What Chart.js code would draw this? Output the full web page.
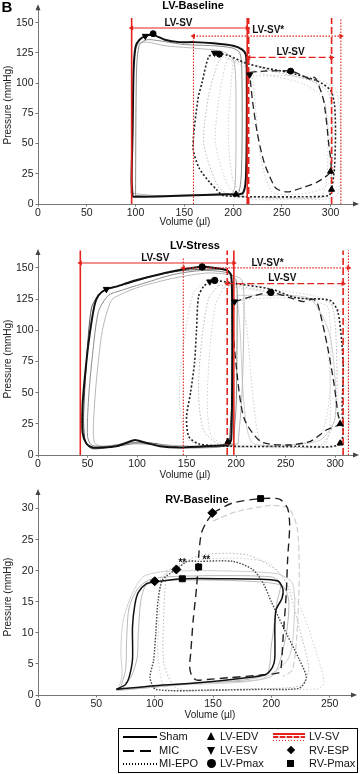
<!DOCTYPE html>
<html>
<head>
<meta charset="utf-8">
<script src="https://cdn.jsdelivr.net/npm/chart.js@4.4.1/dist/chart.umd.min.js"></script>
<style>
  body { margin: 0; background: #fff; }
  #wrap { position: relative; width: 360px; height: 774px; overflow: hidden; font-family: "Liberation Sans", Arial, sans-serif; }
  #wrap canvas { position: absolute; left: 0; top: 0; }
  #legend { position: absolute; left: 118px; top: 728px; width: 240px; height: 45px; border: 1px solid #000; box-sizing: border-box; font-size: 11px; color: #111; }
  #legend span { position: absolute; line-height: 13px; white-space: nowrap; }
  #legend .ln { position: absolute; height: 2px; }
  #legend .mk { position: absolute; }
</style>
</head>
<body>
<div id="wrap">
  <canvas id="lvBase" width="360" height="774"></canvas>
  <canvas id="lvStress" width="360" height="774"></canvas>
  <canvas id="rvBase" width="360" height="774"></canvas>
  <div id="legend">
    <div class="ln" style="left:4px;top:7px;width:34px;background:#000"></div>
    <span style="left:40px;top:1px">Sham</span>
    <div class="ln" style="left:4px;top:21px;width:34px;background:repeating-linear-gradient(90deg,#000 0 11px,transparent 11px 17px)"></div>
    <span style="left:40px;top:15px">MIC</span>
    <div class="ln" style="left:4px;top:34px;width:34px;background:repeating-linear-gradient(90deg,#000 0 1.5px,transparent 1.5px 3px)"></div>
    <span style="left:40px;top:28px">MI-EPO</span>

    <div class="mk" style="left:88px;top:3px;border-left:4.5px solid transparent;border-right:4.5px solid transparent;border-bottom:8px solid #000"></div>
    <span style="left:101px;top:1px">LV-EDV</span>
    <div class="mk" style="left:88px;top:18px;border-left:4.5px solid transparent;border-right:4.5px solid transparent;border-top:8px solid #000"></div>
    <span style="left:101px;top:15px">LV-ESV</span>
    <div class="mk" style="left:88px;top:30px;width:9px;height:9px;border-radius:50%;background:#000"></div>
    <span style="left:101px;top:28px">LV-Pmax</span>

    <div class="ln" style="left:154px;top:4px;width:32px;height:2px;background:#e3231c"></div>
    <div class="ln" style="left:154px;top:7px;width:32px;height:2px;background:repeating-linear-gradient(90deg,#e3231c 0 5px,#f6b0a8 5px 7px)"></div>
    <div class="ln" style="left:154px;top:11px;width:32px;height:1px;background:repeating-linear-gradient(90deg,#e3231c 0 1.5px,transparent 1.5px 3px)"></div>
    <span style="left:190px;top:1px">LV-SV</span>
    <div class="mk" style="left:169px;top:18px;width:6px;height:6px;background:#000;transform:rotate(45deg)"></div>
    <span style="left:190px;top:15px">RV-ESP</span>
    <div class="mk" style="left:168px;top:31px;width:7px;height:7px;background:#000"></div>
    <span style="left:190px;top:28px">RV-Pmax</span>
  </div>
</div>
<script>
const FONT = '"Liberation Sans", Arial, sans-serif';
const RED = '#e3231c';

// ---------- LV-Baseline ----------
const lvPressureTicks = [0, 25, 50, 75, 100, 125, 150];
const lvVolumeTicks = [0, 50, 100, 150, 200, 250, 300];

const shamBaseV = [97, 110, 150, 190, 203, 210, 213, 214, 214, 213, 209, 200, 180, 160, 145, 130, 118, 110, 104, 100, 98, 97, 96, 97];
const shamBaseP = [6, 6, 7, 8, 8, 9, 20, 60, 110, 124, 128, 131, 133, 134, 134, 136, 140, 139, 136, 130, 110, 60, 20, 6];
const shamBaseG1V = [100, 120, 160, 195, 206, 209, 209, 207, 200, 180, 150, 125, 112, 104, 101, 100];
const shamBaseG1P = [7, 6, 7, 8, 10, 40, 110, 125, 129, 131, 132, 135, 136, 132, 110, 7];
const shamBaseG2V = [95, 120, 170, 198, 202, 203, 201, 190, 160, 130, 112, 102, 98, 96, 95];
const shamBaseG2P = [9, 7, 7, 8, 15, 70, 118, 126, 129, 131, 134, 132, 115, 50, 9];

const epoBaseV = [185, 181, 175, 168, 164, 159, 165, 176, 183, 190, 230, 270, 298, 301, 304, 305, 304, 300, 286, 256, 230, 212, 195, 185];
const epoBaseP = [125, 124, 122, 100, 87, 47, 30, 18, 12, 7, 6, 6, 7, 12, 30, 60, 82, 94, 102, 109, 113, 117, 123, 125];
const epoBaseG1V = [190, 185, 175, 170, 185, 200, 250, 295, 300, 302, 298, 280, 240, 205, 190];
const epoBaseG1P = [122, 118, 90, 50, 14, 7, 5, 6, 15, 60, 92, 102, 110, 118, 122];
const epoBaseG2V = [195, 192, 185, 182, 195, 210, 260, 290, 296, 297, 292, 270, 230, 205, 195];
const epoBaseG2P = [120, 115, 85, 50, 15, 6, 5, 6, 20, 60, 88, 100, 108, 116, 120];
const epoBaseG3V = [200, 198, 195, 200, 215, 260, 305, 310, 310, 305, 290, 250, 215, 200];
const epoBaseG3P = [118, 100, 60, 20, 5, 4, 6, 25, 70, 95, 102, 110, 116, 118];

const micBaseV = [217, 232, 259, 272, 280, 283, 286, 293, 298, 300, 286, 273, 256, 246, 242, 232, 225, 220, 218, 217];
const micBaseP = [109, 110, 110, 106, 103, 105, 102, 85, 50, 27, 18, 14, 10, 12, 15, 34, 58, 85, 100, 109];
const micBaseGV = [220, 260, 285, 295, 300, 290, 265, 240, 228, 222, 220];
const micBaseGP = [106, 106, 100, 80, 20, 12, 8, 10, 40, 90, 106];

// markers: [Sham, MIC, MI-EPO]
const edvBaseV = [203, 300, 301], edvBaseP = [8, 27, 12];
const esvBaseV = [110, 217, 181], esvBaseP = [139, 107, 125];
const pmaxBaseV = [118, 259, 186], pmaxBaseP = [141, 110, 124];

// stroke volume markers: [Sham, MIC, MI-EPO]
const svBaseLo = [96, 216, 159.4], svBaseHi = [214.5, 301, 310.5];
const svBaseTopLo = [154, 154, 141], svBaseTopHi = [154, 154, 154];
const svBaseArrow = [145.7, 121.3, 139];
const svBaseText = ['LV-SV', 'LV-SV', 'LV-SV*'];
const svBaseTextV = [144, 259, 236], svBaseTextP = [150, 126, 143.5];

// ---------- LV-Stress ----------
const shamStressV = [192, 195, 196, 196, 195, 191, 179, 165, 147, 128, 108, 94, 79, 69, 61, 57, 51, 47, 45, 45, 49, 55, 65, 79, 90, 98, 108, 123, 143, 167, 192];
const shamStressP = [8, 12, 60, 120, 144, 148, 150, 151, 149, 146, 142, 139, 135, 133, 128, 120, 90, 60, 40, 18, 9, 6, 6, 7, 10, 12, 10, 7, 6, 7, 8];
const shamStressG1V = [197, 200, 201, 200, 192, 167, 138, 108, 84, 71, 61, 55, 51, 50, 54, 69, 98, 138, 177, 197];
const shamStressG1P = [8, 40, 110, 140, 146, 148, 145, 138, 132, 128, 115, 80, 45, 15, 8, 7, 10, 6, 6, 8];
const shamStressG2V = [202, 206, 208, 206, 197, 172, 138, 103, 84, 74, 65, 59, 56, 57, 64, 88, 128, 167, 202];
const shamStressG2P = [9, 50, 120, 140, 144, 146, 142, 135, 129, 124, 100, 60, 25, 10, 7, 9, 8, 7, 9];
const shamStressG3V = [193, 196, 196, 193, 177, 147, 118, 93, 74, 63, 54, 49, 46, 48, 55, 79, 108, 147, 193];
const shamStressG3P = [7, 50, 130, 147, 149, 148, 144, 138, 134, 130, 118, 75, 30, 10, 5, 7, 10, 6, 7];

const epoStressV = [173, 167, 162, 160, 158, 154, 150, 152, 162, 195, 261, 305, 307, 308, 303, 295, 261, 235, 195, 178, 173];
const epoStressP = [139, 135, 127, 100, 74, 50, 31, 15, 9, 7, 7, 9, 40, 74, 114, 124, 126, 133, 138, 140, 139];
const epoStressG1V = [182, 172, 165, 162, 167, 182, 226, 285, 300, 301, 295, 265, 226, 197, 182];
const epoStressG1P = [136, 125, 90, 50, 20, 9, 7, 8, 30, 90, 122, 126, 132, 136, 136];
const epoStressG2V = [187, 179, 173, 171, 175, 192, 246, 290, 295, 293, 275, 236, 202, 187];
const epoStressG2P = [134, 120, 80, 40, 15, 8, 7, 9, 60, 118, 124, 130, 134, 134];
const epoStressG3V = [169, 157, 149, 143, 144, 152, 177, 256, 310, 313, 310, 285, 236, 197, 169];
const epoStressG3P = [140, 130, 100, 60, 30, 12, 7, 6, 10, 60, 110, 126, 133, 140, 140];

const micStressV = [198.5, 215, 235, 255, 268, 277, 282, 292, 299, 303, 305, 291, 275, 252, 225, 208, 200, 196.5, 198.5];
const micStressP = [123, 127, 130.5, 126, 123, 125, 122, 88, 56, 32, 25, 20, 11, 8, 10.7, 29.5, 72, 110, 123];
const micStressG1V = [201, 236, 275, 295, 300, 285, 246, 216, 208, 204, 201];
const micStressG1P = [128, 128, 125, 95, 30, 12, 8, 10, 40, 100, 128];
const micStressG2V = [206, 246, 280, 295, 285, 256, 226, 218, 211, 206];
const micStressG2P = [125, 126, 122, 60, 15, 8, 9, 40, 100, 125];

const edvStressV = [191.7, 305, 305], edvStressP = [10.7, 25, 9.4];
const esvStressV = [69, 198.4, 173.4], esvStressP = [133, 123, 139];
const pmaxStressV = [165.7, 235, 178.4], pmaxStressP = [150.8, 130.4, 140];

const svStressLo = [42.7, 191, 146.7], svStressHi = [197.7, 308, 313.4];
const svStressTopLo = [164, 164, 158], svStressTopHi = [164, 164, 164];
const svStressArrow = [154, 137.4, 150];
const svStressText = ['LV-SV', 'LV-SV', 'LV-SV*'];
const svStressTextV = [118.4, 246.7, 231.7], svStressTextP = [158, 142, 154];

// ---------- RV-Baseline ----------
const rvPressureTicks = [0, 5, 10, 15, 20, 25, 30];
const rvVolumeTicks = [0, 50, 100, 150, 200, 250];

const shamRvV = [67, 100, 140, 175, 195, 201, 203, 203, 204, 209, 210, 206, 196, 160, 124, 100, 93, 86, 83, 81, 81, 78, 75, 67];
const shamRvP = [0.9, 1.5, 2.0, 2.7, 3.3, 4.5, 6, 11, 13.7, 15.5, 17, 18.3, 18.6, 18.7, 18.7, 18.2, 17.9, 16.5, 14.5, 11, 5.7, 2.8, 1.7, 0.9];
const shamRvG1V = [70, 130, 195, 200, 205, 208, 200, 150, 110, 95, 85, 78, 76, 75, 70];
const shamRvG1P = [0.8, 1.8, 3.2, 8, 15, 18, 19, 19.2, 19, 18.5, 17, 14, 9, 4, 0.8];
const shamRvG2V = [68, 120, 190, 215, 220, 218, 205, 150, 105, 90, 80, 73, 71, 72, 68];
const shamRvG2P = [0.7, 1.6, 2.5, 6, 14, 18, 19.5, 20, 19.8, 19, 16, 12, 7, 3, 0.7];
const shamRvG3V = [72, 140, 200, 212, 215, 210, 190, 140, 100, 92, 88, 86, 85, 80, 72];
const shamRvG3P = [1, 2, 3, 9, 15, 17.5, 18.2, 18.5, 18.3, 17.5, 15, 10, 6, 3, 1];

const micRvV = [150, 167, 190.8, 207, 214, 215.7, 214, 212.8, 210, 208.5, 207, 190, 165, 145, 136, 132, 130, 131, 133, 136, 138, 140, 144, 150];
const micRvP = [29.3, 30.9, 31.6, 31.5, 30, 27.2, 22, 16.4, 9, 4.6, 3.6, 3.2, 2.8, 2.5, 2.4, 3, 4.5, 7, 12, 17.5, 23, 26, 27.7, 29.3];
const micRvGV = [150, 170, 200, 215, 222, 224, 222, 218, 210];
const micRvGP = [28, 29.5, 30.5, 30, 27, 20, 10, 4, 3];

const epoRvV = [118.6, 128, 137.7, 167, 184, 193, 200, 210, 224, 230, 224, 190, 150, 101, 96, 99, 101, 103, 107, 118.6];
const epoRvP = [20.2, 21.5, 21.5, 21.5, 20.2, 18, 15, 11, 5.7, 2.8, 1.1, 0.9, 0.8, 0.9, 2.8, 5.5, 10, 15.4, 18.6, 20.2];
const epoRvG1V = [105, 130, 170, 200, 225, 240, 245, 240, 200, 150, 110, 103, 104, 105];
const epoRvG1P = [19, 21.5, 22, 21, 14, 6, 2, 1, 1, 0.8, 1, 6, 14, 19];
const epoRvG2V = [110, 140, 180, 210, 225, 232, 225, 180, 120, 108, 108, 110];
const epoRvG2P = [20, 22.5, 22.5, 19, 10, 4, 1.5, 1, 1, 5, 14, 20];

const espRvV = [100, 149.4, 118.6], espRvP = [18.3, 29.3, 20.2];
const pmaxRvV = [123.7, 190.8, 137.7], pmaxRvP = [18.7, 31.6, 20.6];
// "**" significance marks next to the MI-EPO markers
const starRvV = [123.7, 144.3], starRvP = [21.2, 21.7];

// ---------- helpers ----------
function pts(vs, ps) { return vs.map((v, i) => ({ x: v, y: ps[i] })); }

function loop(vs, ps, color, width, dash, order) {
  return {
    data: pts(vs, ps), showLine: true, borderColor: color, borderWidth: width,
    borderDash: dash || [], pointRadius: 0, tension: 0.25, fill: false, order: order
  };
}

function marks(vs, ps, style, rot, r) {
  return {
    data: pts(vs, ps), showLine: false, pointStyle: style, pointRotation: rot, pointRadius: r,
    pointBackgroundColor: '#000', pointBorderColor: '#000', pointBorderWidth: 1, order: 0, clip: false
  };
}

// vertical SV lines + horizontal double arrow, all in red
function svLines(lo, hi, topLo, topHi, arrowP, dash, width) {
  const base = { showLine: true, borderColor: RED, borderWidth: width, borderDash: dash, pointRadius: 0, order: 1, clip: false };
  return [
    Object.assign({ data: [{ x: lo, y: 0 }, { x: lo, y: topLo }] }, base),
    Object.assign({ data: [{ x: hi, y: 0 }, { x: hi, y: topHi }] }, base),
    Object.assign({}, base, {
      data: [{ x: lo, y: arrowP }, { x: hi, y: arrowP }],
      borderWidth: 1.2, pointRadius: 3, pointStyle: 'triangle', pointRotation: [-90, 90],
      pointBackgroundColor: RED, pointBorderColor: RED, pointBorderWidth: 0
    })
  ];
}

const dashes = [[], [7, 3], [1.5, 1.5]];
const widths = [1.6, 1.6, 1.1];

function svSets(lo, hi, topLo, topHi, arrow) {
  let out = [];
  for (let i = 0; i < 3; i++) out = out.concat(svLines(lo[i], hi[i], topLo[i], topHi[i], arrow[i], dashes[i], widths[i]));
  return out;
}

function axis(min, max, tickVals, isX) {
  return {
    type: 'linear', min: min, max: max,
    afterBuildTicks: s => { s.ticks = tickVals.map(v => ({ value: v })); },
    afterFit: s => { if (isX) s.height = 20; else s.width = 38; },
    grid: { display: true, drawOnChartArea: false, tickLength: 2.5, color: '#777' },
    border: { display: true, color: '#777', width: 1 },
    ticks: { color: '#222', font: { size: 10.5, family: FONT }, padding: isX ? 0 : 2, maxRotation: 0, autoSkip: false }
  };
}

const axisArrows = {
  id: 'axisArrows',
  afterDraw(chart) {
    const { ctx, chartArea: a } = chart;
    ctx.save();
    ctx.fillStyle = '#444';
    ctx.beginPath();
    ctx.moveTo(a.left, a.top - 4); ctx.lineTo(a.left - 2.5, a.top + 2); ctx.lineTo(a.left + 2.5, a.top + 2);
    ctx.fill();
    ctx.beginPath();
    ctx.moveTo(a.right + 4, a.bottom); ctx.lineTo(a.right - 2, a.bottom - 2.5); ctx.lineTo(a.right - 2, a.bottom + 2.5);
    ctx.fill();
    ctx.restore();
  }
};

function notes(items) {
  return {
    id: 'notes',
    afterDraw(chart) {
      const { ctx } = chart;
      const sx = chart.scales.x, sy = chart.scales.y;
      items.forEach(it => {
        let x = it.px, y = it.py;
        if (it.v !== undefined) { x = sx.getPixelForValue(it.v); y = sy.getPixelForValue(it.p); }
        ctx.save();
        ctx.font = (it.font || '10px') + ' ' + FONT;
        ctx.fillStyle = it.color || '#111';
        ctx.textAlign = 'center';
        ctx.textBaseline = 'middle';
        ctx.translate(x, y);
        if (it.rot) ctx.rotate(it.rot);
        ctx.fillText(it.text, 0, 0);
        ctx.restore();
      });
    }
  };
}

function makeChart(id, datasets, xAxis, yAxis, pad, items) {
  return new Chart(document.getElementById(id), {
    type: 'scatter',
    data: { datasets: datasets },
    options: {
      responsive: false, animation: false, events: [],
      layout: { padding: pad },
      plugins: { legend: { display: false }, tooltip: { enabled: false } },
      scales: { x: xAxis, y: yAxis }
    },
    plugins: [axisArrows, notes(items)]
  });
}

function svNotes(text, vs, ps) {
  return text.map((t, i) => ({ text: t, v: vs[i], p: ps[i], font: 'bold 10px' }));
}

const GRAY1 = '#8a8a8a', GRAY2 = '#b8b8b8', GRAY3 = '#cfcfcf';

// ---------- chart 1: LV-Baseline ----------
makeChart('lvBase', [
  marks(edvBaseV, edvBaseP, 'triangle', 0, 3.5),
  marks(esvBaseV, esvBaseP, 'triangle', 180, 3.5),
  marks(pmaxBaseV, pmaxBaseP, 'circle', 0, 3),
  ...svSets(svBaseLo, svBaseHi, svBaseTopLo, svBaseTopHi, svBaseArrow),
  loop(shamBaseV, shamBaseP, '#111', 2, [], 2),
  loop(epoBaseV, epoBaseP, '#222', 1.6, [2, 2], 2),
  loop(micBaseV, micBaseP, '#222', 1.3, [7, 4], 2),
  loop(shamBaseG1V, shamBaseG1P, GRAY1, 1, [], 3),
  loop(shamBaseG2V, shamBaseG2P, GRAY2, 1, [], 3),
  loop(epoBaseG1V, epoBaseG1P, GRAY2, 1, [1.5, 2], 3),
  loop(epoBaseG2V, epoBaseG2P, GRAY3, 1, [1.5, 2], 3),
  loop(epoBaseG3V, epoBaseG3P, GRAY3, 1, [1.5, 2], 3),
  loop(micBaseGV, micBaseGP, GRAY3, 1, [1.5, 2], 3)
], axis(0, 325, lvVolumeTicks, true), axis(0, 162, lvPressureTicks, false),
  { top: 2, right: 2, bottom: 550, left: 0 },
  [
    { text: 'B', px: 7, py: 8, font: 'bold 15px', color: '#000' },
    { text: 'LV-Baseline', px: 193, py: 6, font: 'bold 11px', color: '#000' },
    { text: 'Pressure (mmHg)', px: 8, py: 105, rot: -Math.PI / 2, color: '#222' },
    { text: 'Volume (\u00b5l)', px: 185, py: 222, color: '#222' }
  ].concat(svNotes(svBaseText, svBaseTextV, svBaseTextP)));

// ---------- chart 2: LV-Stress ----------
makeChart('lvStress', [
  marks(edvStressV, edvStressP, 'triangle', 0, 3.5),
  marks(esvStressV, esvStressP, 'triangle', 180, 3.5),
  marks(pmaxStressV, pmaxStressP, 'circle', 0, 3.2),
  ...svSets(svStressLo, svStressHi, svStressTopLo, svStressTopHi, svStressArrow),
  loop(shamStressV, shamStressP, '#111', 2, [], 2),
  loop(epoStressV, epoStressP, '#222', 1.6, [2, 2], 2),
  loop(micStressV, micStressP, '#222', 1.3, [7, 4], 2),
  loop(shamStressG1V, shamStressG1P, GRAY1, 1, [], 3),
  loop(shamStressG2V, shamStressG2P, GRAY2, 1, [], 3),
  loop(shamStressG3V, shamStressG3P, '#555', 1, [], 3),
  loop(epoStressG1V, epoStressG1P, GRAY2, 1, [1.5, 2], 3),
  loop(epoStressG2V, epoStressG2P, GRAY3, 1, [1.5, 2], 3),
  loop(epoStressG3V, epoStressG3P, GRAY3, 1, [1.5, 2], 3),
  loop(micStressG1V, micStressG1P, GRAY3, 1, [], 3),
  loop(micStressG2V, micStressG2P, GRAY3, 1, [1.5, 2], 3)
], axis(0, 320, lvVolumeTicks, true), axis(0, 162, lvPressureTicks, false),
  { top: 253, right: 2, bottom: 299, left: 0 },
  [
    { text: 'LV-Stress', px: 195, py: 246, font: 'bold 11px', color: '#000' },
    { text: 'Pressure (mmHg)', px: 8, py: 359, rot: -Math.PI / 2, color: '#222' },
    { text: 'Volume (\u00b5l)', px: 185, py: 475, color: '#222' }
  ].concat(svNotes(svStressText, svStressTextV, svStressTextP)));

// ---------- chart 3: RV-Baseline ----------
makeChart('rvBase', [
  marks(espRvV, espRvP, 'rectRot', 0, 4.5),
  marks(pmaxRvV, pmaxRvP, 'rect', 0, 4.2),
  loop(shamRvV, shamRvP, '#111', 1.5, [], 2),
  loop(micRvV, micRvP, '#222', 1.4, [8, 5], 2),
  loop(epoRvV, epoRvP, '#444', 1.4, [1.5, 1.5], 2),
  loop(shamRvG1V, shamRvG1P, GRAY2, 1, [], 3),
  loop(shamRvG2V, shamRvG2P, GRAY3, 1, [], 3),
  loop(shamRvG3V, shamRvG3P, GRAY2, 1, [], 3),
  loop(micRvGV, micRvGP, GRAY3, 1.2, [6, 3], 3),
  loop(epoRvG1V, epoRvG1P, GRAY3, 1, [1.5, 2], 3),
  loop(epoRvG2V, epoRvG2P, GRAY2, 1, [1.5, 2], 3)
], axis(0, 270, rvVolumeTicks, true), axis(0, 32.5, rvPressureTicks, false),
  { top: 493, right: 7, bottom: 59, left: 0 },
  [
    { text: 'RV-Baseline', px: 197, py: 500, font: 'bold 11px', color: '#000' },
    { text: 'Pressure (mmHg)', px: 8, py: 597, rot: -Math.PI / 2, color: '#222' },
    { text: 'Volume (\u00b5l)', px: 210, py: 715, color: '#222' }
  ].concat(starRvV.map((v, i) => ({ text: '**', v: v, p: starRvP[i], font: 'bold 10px' }))));
</script>
</body>
</html>
